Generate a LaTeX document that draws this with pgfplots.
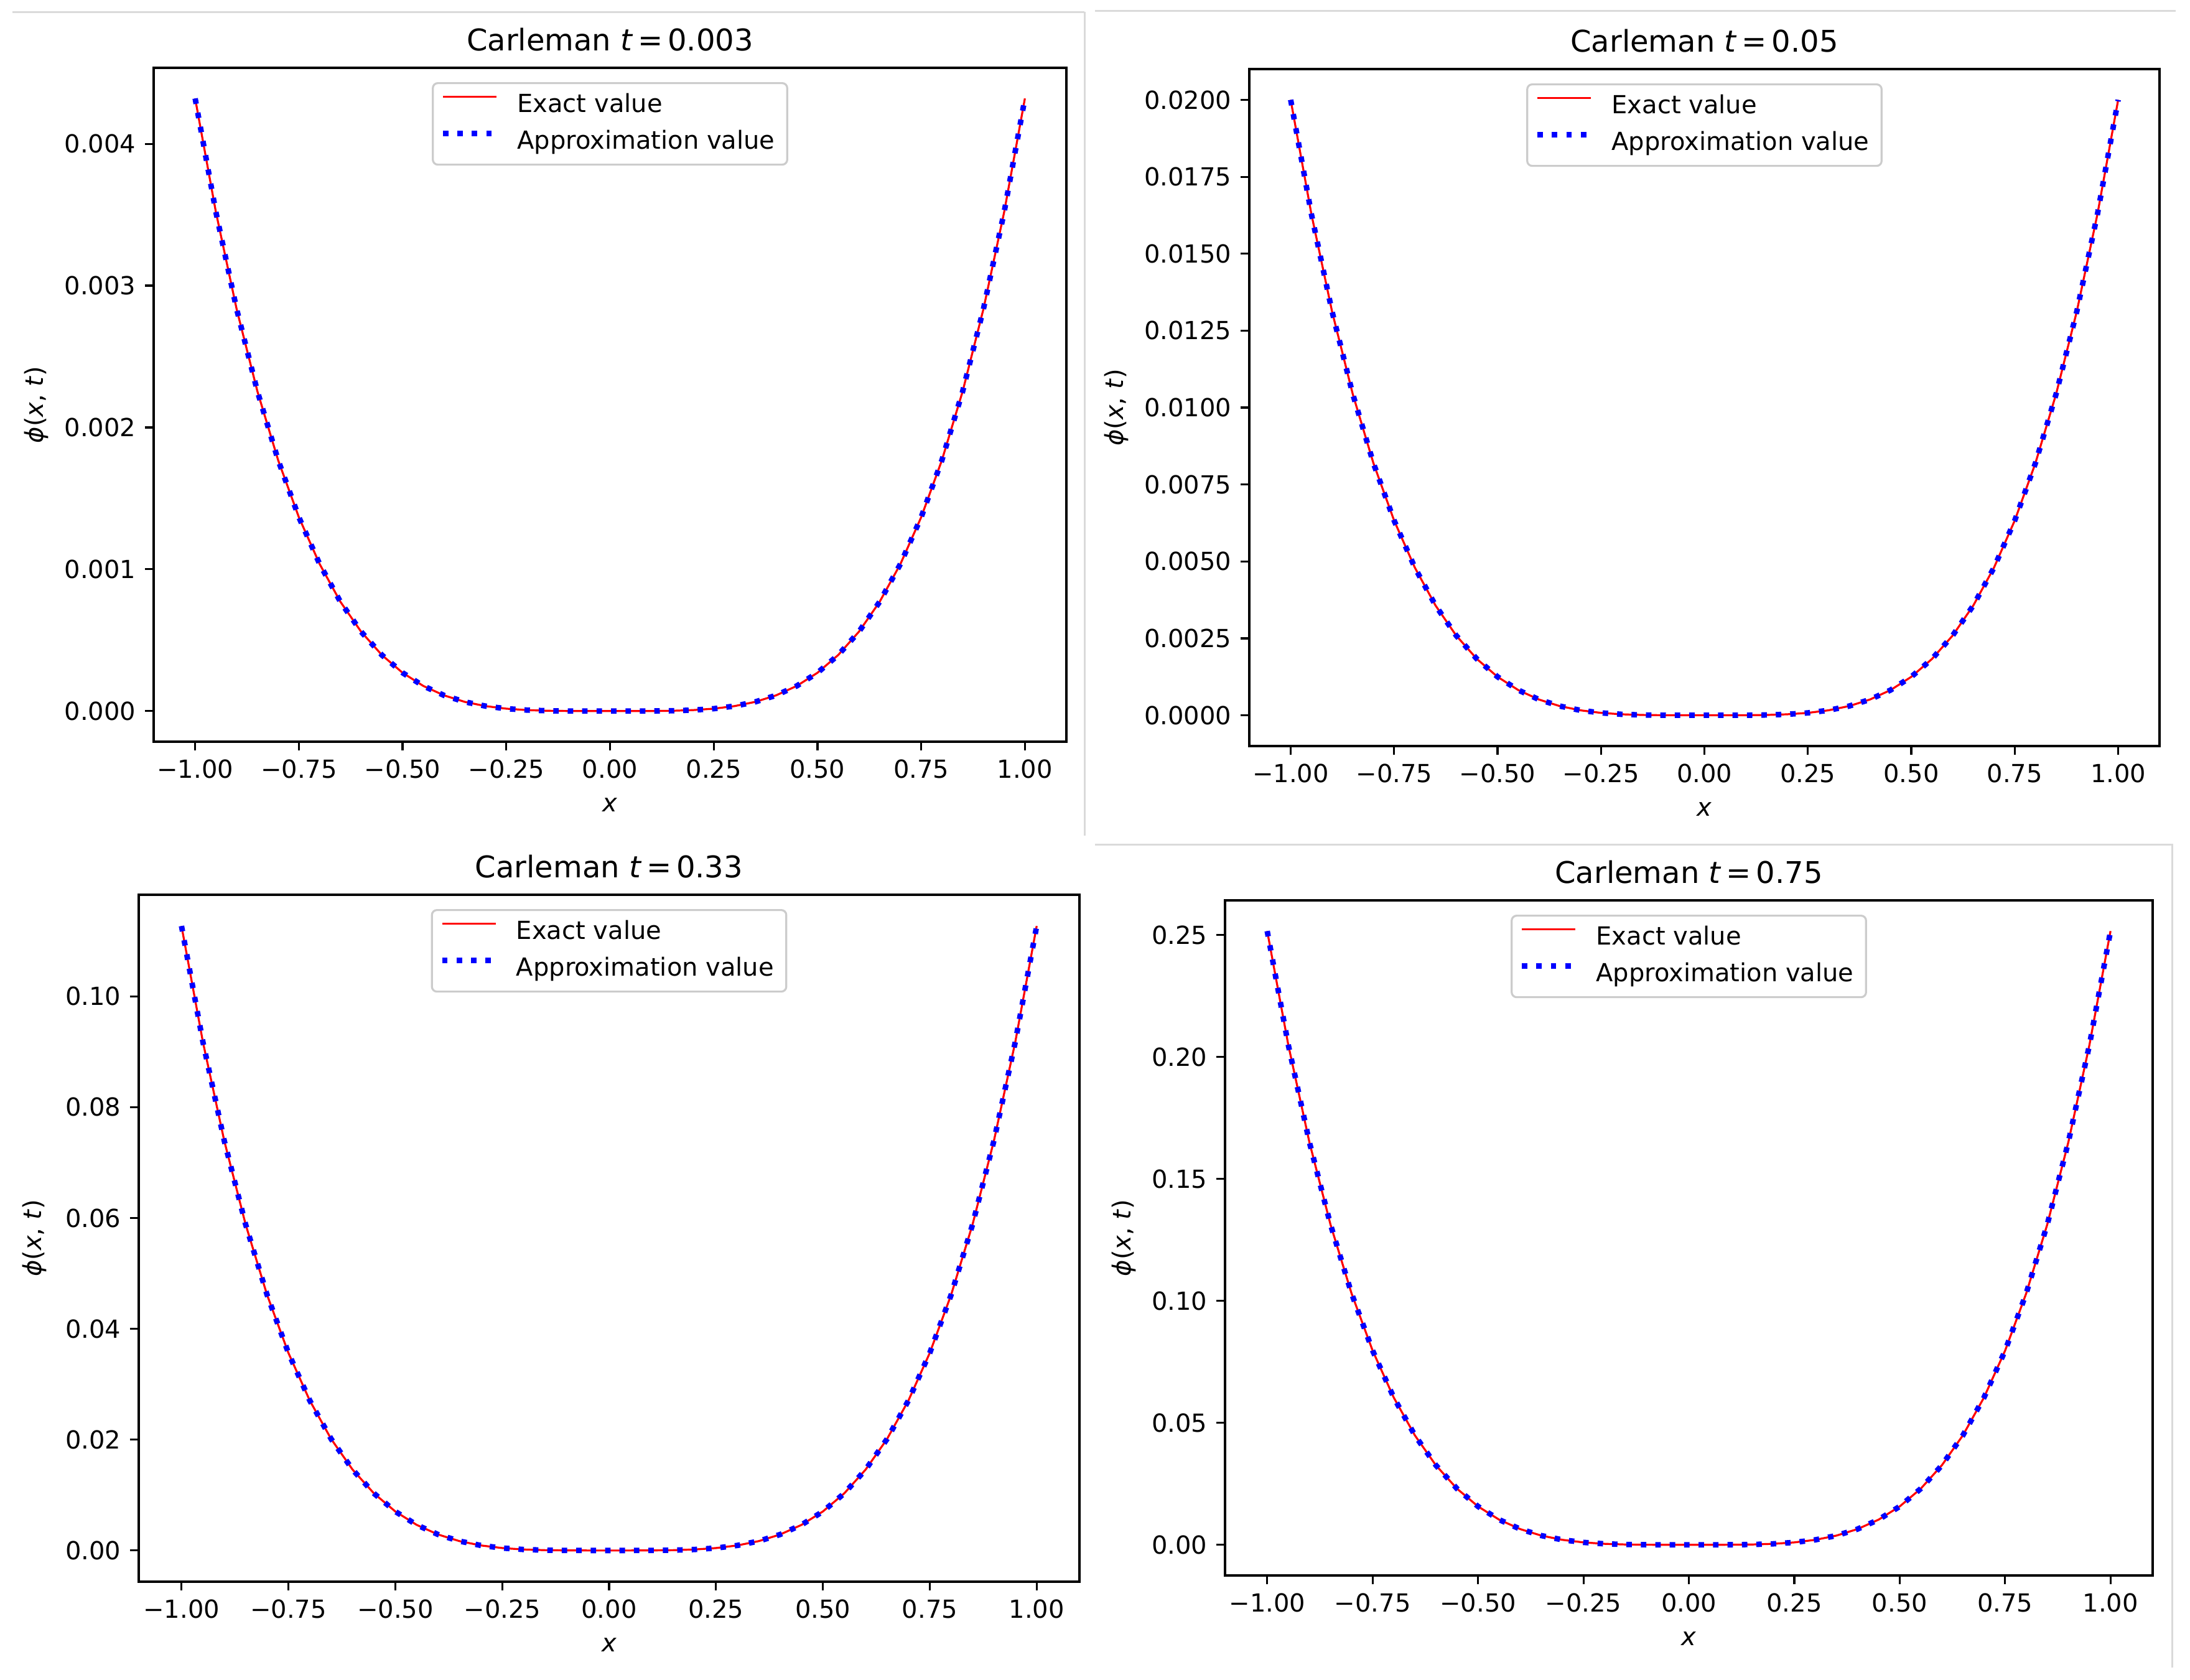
\documentclass[border=0pt]{standalone}
\usepackage{fontspec}
\setmainfont{DejaVu Sans}[ItalicFont={DejaVu Sans Oblique},BoldFont={DejaVu Sans Bold}]
\usepackage{pgfplots}
\usepackage{pgfplotstable}
\pgfplotsset{compat=1.18}
\definecolor{sep}{RGB}{218,218,218}
\definecolor{legframe}{RGB}{204,204,204}

\pgfplotstableread{
x y
-1.00 0.00432
-0.95 0.0035187
-0.90 0.0028344
-0.85 0.0022551
-0.80 0.0017695
-0.75 0.0013669
-0.70 0.0010372
-0.65 0.0007712
-0.60 0.0005599
-0.55 0.0003953
-0.50 0.0002700
-0.45 0.0001771
-0.40 0.0001106
-0.35 0.0000648
-0.30 0.0000350
-0.25 0.0000169
-0.20 0.0000069
-0.15 0.0000022
-0.10 0.0000004
-0.05 0.0000000
0.00 0.0
0.05 0.0000000
0.10 0.0000004
0.15 0.0000022
0.20 0.0000069
0.25 0.0000169
0.30 0.0000350
0.35 0.0000648
0.40 0.0001106
0.45 0.0001771
0.50 0.0002700
0.55 0.0003953
0.60 0.0005599
0.65 0.0007712
0.70 0.0010372
0.75 0.0013669
0.80 0.0017695
0.85 0.0022551
0.90 0.0028344
0.95 0.0035187
1.00 0.00432
}\tA

\pgfplotstableread{
x y
-1.00 0.02
-0.95 0.0162901
-0.90 0.013122
-0.85 0.0104401
-0.80 0.008192
-0.75 0.0063281
-0.70 0.004802
-0.65 0.0035701
-0.60 0.002592
-0.55 0.0018301
-0.50 0.00125
-0.45 0.0008201
-0.40 0.000512
-0.35 0.0003001
-0.30 0.000162
-0.25 0.0000781
-0.20 0.000032
-0.15 0.0000101
-0.10 0.000002
-0.05 0.0000001
0.00 0.0
0.05 0.0000001
0.10 0.000002
0.15 0.0000101
0.20 0.000032
0.25 0.0000781
0.30 0.000162
0.35 0.0003001
0.40 0.000512
0.45 0.0008201
0.50 0.00125
0.55 0.0018301
0.60 0.002592
0.65 0.0035701
0.70 0.004802
0.75 0.0063281
0.80 0.008192
0.85 0.0104401
0.90 0.013122
0.95 0.0162901
1.00 0.02
}\tB

\pgfplotstableread{
x y
-1.00 0.1127
-0.95 0.0917949
-0.90 0.0739425
-0.85 0.0588301
-0.80 0.0461619
-0.75 0.0356590
-0.70 0.0270593
-0.65 0.0201177
-0.60 0.0146059
-0.55 0.0103128
-0.50 0.0070438
-0.45 0.0046214
-0.40 0.0028851
-0.35 0.0016912
-0.30 0.0009129
-0.25 0.0004402
-0.20 0.0001803
-0.15 0.0000571
-0.10 0.0000113
-0.05 0.0000007
0.00 0.0
0.05 0.0000007
0.10 0.0000113
0.15 0.0000571
0.20 0.0001803
0.25 0.0004402
0.30 0.0009129
0.35 0.0016912
0.40 0.0028851
0.45 0.0046214
0.50 0.0070438
0.55 0.0103128
0.60 0.0146059
0.65 0.0201177
0.70 0.0270593
0.75 0.0356590
0.80 0.0461619
0.85 0.0588301
0.90 0.0739425
0.95 0.0917949
1.00 0.1127
}\tC

\pgfplotstableread{
x y
-1.00 0.2516
-0.95 0.2049298
-0.90 0.1650748
-0.85 0.1313368
-0.80 0.1030554
-0.75 0.0796078
-0.70 0.0604092
-0.65 0.0449122
-0.60 0.0326074
-0.55 0.0230230
-0.50 0.015725
-0.45 0.0103172
-0.40 0.006441
-0.35 0.0037756
-0.30 0.002038
-0.25 0.0009828
-0.20 0.0004026
-0.15 0.0001274
-0.10 0.0000252
-0.05 0.0000016
0.00 0.0
0.05 0.0000016
0.10 0.0000252
0.15 0.0001274
0.20 0.0004026
0.25 0.0009828
0.30 0.002038
0.35 0.0037756
0.40 0.006441
0.45 0.0103172
0.50 0.015725
0.55 0.0230230
0.60 0.0326074
0.65 0.0449122
0.70 0.0604092
0.75 0.0796078
0.80 0.1030554
0.85 0.1313368
0.90 0.1650748
0.95 0.2049298
1.00 0.2516
}\tD

\newcommand\ttl[1]{Carleman \textit{t}\hspace{0.16em}=\hspace{0.16em}#1}
\newcommand\phil{\textit{ϕ}(\textit{x}, \textit{t})}

\pgfplotsset{
  every axis title shift=0pt,
  panel/.style={
    scale only axis, anchor=south west,
    xmin=-1.1, xmax=1.1,
    xtick={-1,-0.75,-0.5,-0.25,0,0.25,0.5,0.75,1},
    xticklabels={−1.00,−0.75,−0.50,−0.25,0.00,0.25,0.50,0.75,1.00},
    tick align=outside, xtick pos=lower, ytick pos=left,
    major tick length=3.5pt,
    every tick/.style={black, line width=0.8pt},
    axis line style={line width=0.8pt},
    tick label style={font=\fontsize{10}{12}\selectfont, inner sep=3.5pt},
    scaled y ticks=false, scaled x ticks=false,
    title style={font=\fontsize{12}{14}\selectfont, at={(axis description cs:0.5,1)}, anchor=base, yshift=6.8pt, inner sep=0pt},
    xlabel={\textit{x}},
    xlabel style={at={(axis description cs:0.5,0)}, anchor=center, yshift=-25.5pt, font=\fontsize{10}{12}\selectfont, inner sep=0pt},
    ylabel={\phil},
    ylabel style={anchor=center, font=\fontsize{10}{12}\selectfont, inner sep=0pt},
    legend cell align=left,
    legend style={at={(axis description cs:0.5,1)}, anchor=north, yshift=-5.75pt,
      draw=legframe, line width=0.8pt, rounded corners=2pt, fill=white,
      font=\fontsize{10}{12}\selectfont,
      inner xsep=3pt, inner ysep=2pt, row sep=0.75pt, column sep=5.25pt,
      nodes={inner sep=2pt, text height=7.6pt, text depth=2.4pt}},
    legend image code/.code={\draw[#1] (0pt,3.5pt) -- (21.5pt,3.5pt);},
  },
  exact/.style={red, line width=0.8pt, line join=round},
  approx/.style={blue, line width=2.2pt, dash pattern=on 2.2pt off 3.6pt},
}

\begin{document}
\begin{tikzpicture}
\path[use as bounding box] (0pt,0pt) rectangle (880pt,-674.75pt);
% screenshot borders
\draw[sep, line width=0.75pt] (5pt,-4.75pt) -- (435.75pt,-4.75pt);
\draw[sep, line width=0.75pt] (440pt,-4.25pt) -- (874.25pt,-4.25pt);
\draw[sep, line width=0.75pt] (435.75pt,-4.75pt) -- (435.75pt,-335.75pt);
\draw[sep, line width=0.75pt] (440pt,-339.25pt) -- (873.25pt,-339.25pt);
\draw[sep, line width=0.75pt] (872.75pt,-339.25pt) -- (872.75pt,-670pt);

% top left
\begin{axis}[panel, at={(61.75pt,-298pt)}, width=366.75pt, height=270.75pt,
  ymin=-0.000216, ymax=0.004536,
  ytick={0,0.001,0.002,0.003,0.004},
  yticklabels={0.000,0.001,0.002,0.003,0.004},
  ylabel style={at={(axis description cs:-0.1288,0.5)}},
  title={\ttl{0.003}}]
\addplot[exact] table[x=x,y=y] {\tA};
\addlegendentry{Exact value}
\addplot[approx] table[x=x,y=y] {\tA};
\addlegendentry{Approximation value}
\end{axis}

% top right
\begin{axis}[panel, at={(502pt,-299.75pt)}, width=365.75pt, height=272pt,
  ymin=-0.001, ymax=0.021,
  ytick={0,0.0025,0.005,0.0075,0.01,0.0125,0.015,0.0175,0.02},
  yticklabels={0.0000,0.0025,0.0050,0.0075,0.0100,0.0125,0.0150,0.0175,0.0200},
  ylabel style={at={(axis description cs:-0.1463,0.5)}},
  title={\ttl{0.05}}]
\addplot[exact] table[x=x,y=y] {\tB};
\addlegendentry{Exact value}
\addplot[approx] table[x=x,y=y] {\tB};
\addlegendentry{Approximation value}
\end{axis}

% bottom left
\begin{axis}[panel, at={(55.75pt,-635.5pt)}, width=378pt, height=276pt,
  ymin=-0.005635, ymax=0.118335,
  ytick={0,0.02,0.04,0.06,0.08,0.10},
  yticklabels={0.00,0.02,0.04,0.06,0.08,0.10},
  ylabel style={at={(axis description cs:-0.1111,0.5)}},
  title={\ttl{0.33}}]
\addplot[exact] table[x=x,y=y] {\tC};
\addlegendentry{Exact value}
\addplot[approx] table[x=x,y=y] {\tC};
\addlegendentry{Approximation value}
\end{axis}

% bottom right
\begin{axis}[panel, at={(492.25pt,-633pt)}, width=372.75pt, height=271.25pt,
  axis line style={line width=1.0pt},
  ymin=-0.01258, ymax=0.26418,
  ytick={0,0.05,0.10,0.15,0.20,0.25},
  yticklabels={0.00,0.05,0.10,0.15,0.20,0.25},
  ylabel style={at={(axis description cs:-0.1090,0.5)}},
  title={\ttl{0.75}}]
\addplot[exact] table[x=x,y=y] {\tD};
\addlegendentry{Exact value}
\addplot[approx] table[x=x,y=y] {\tD};
\addlegendentry{Approximation value}
\end{axis}
\end{tikzpicture}
\end{document}
